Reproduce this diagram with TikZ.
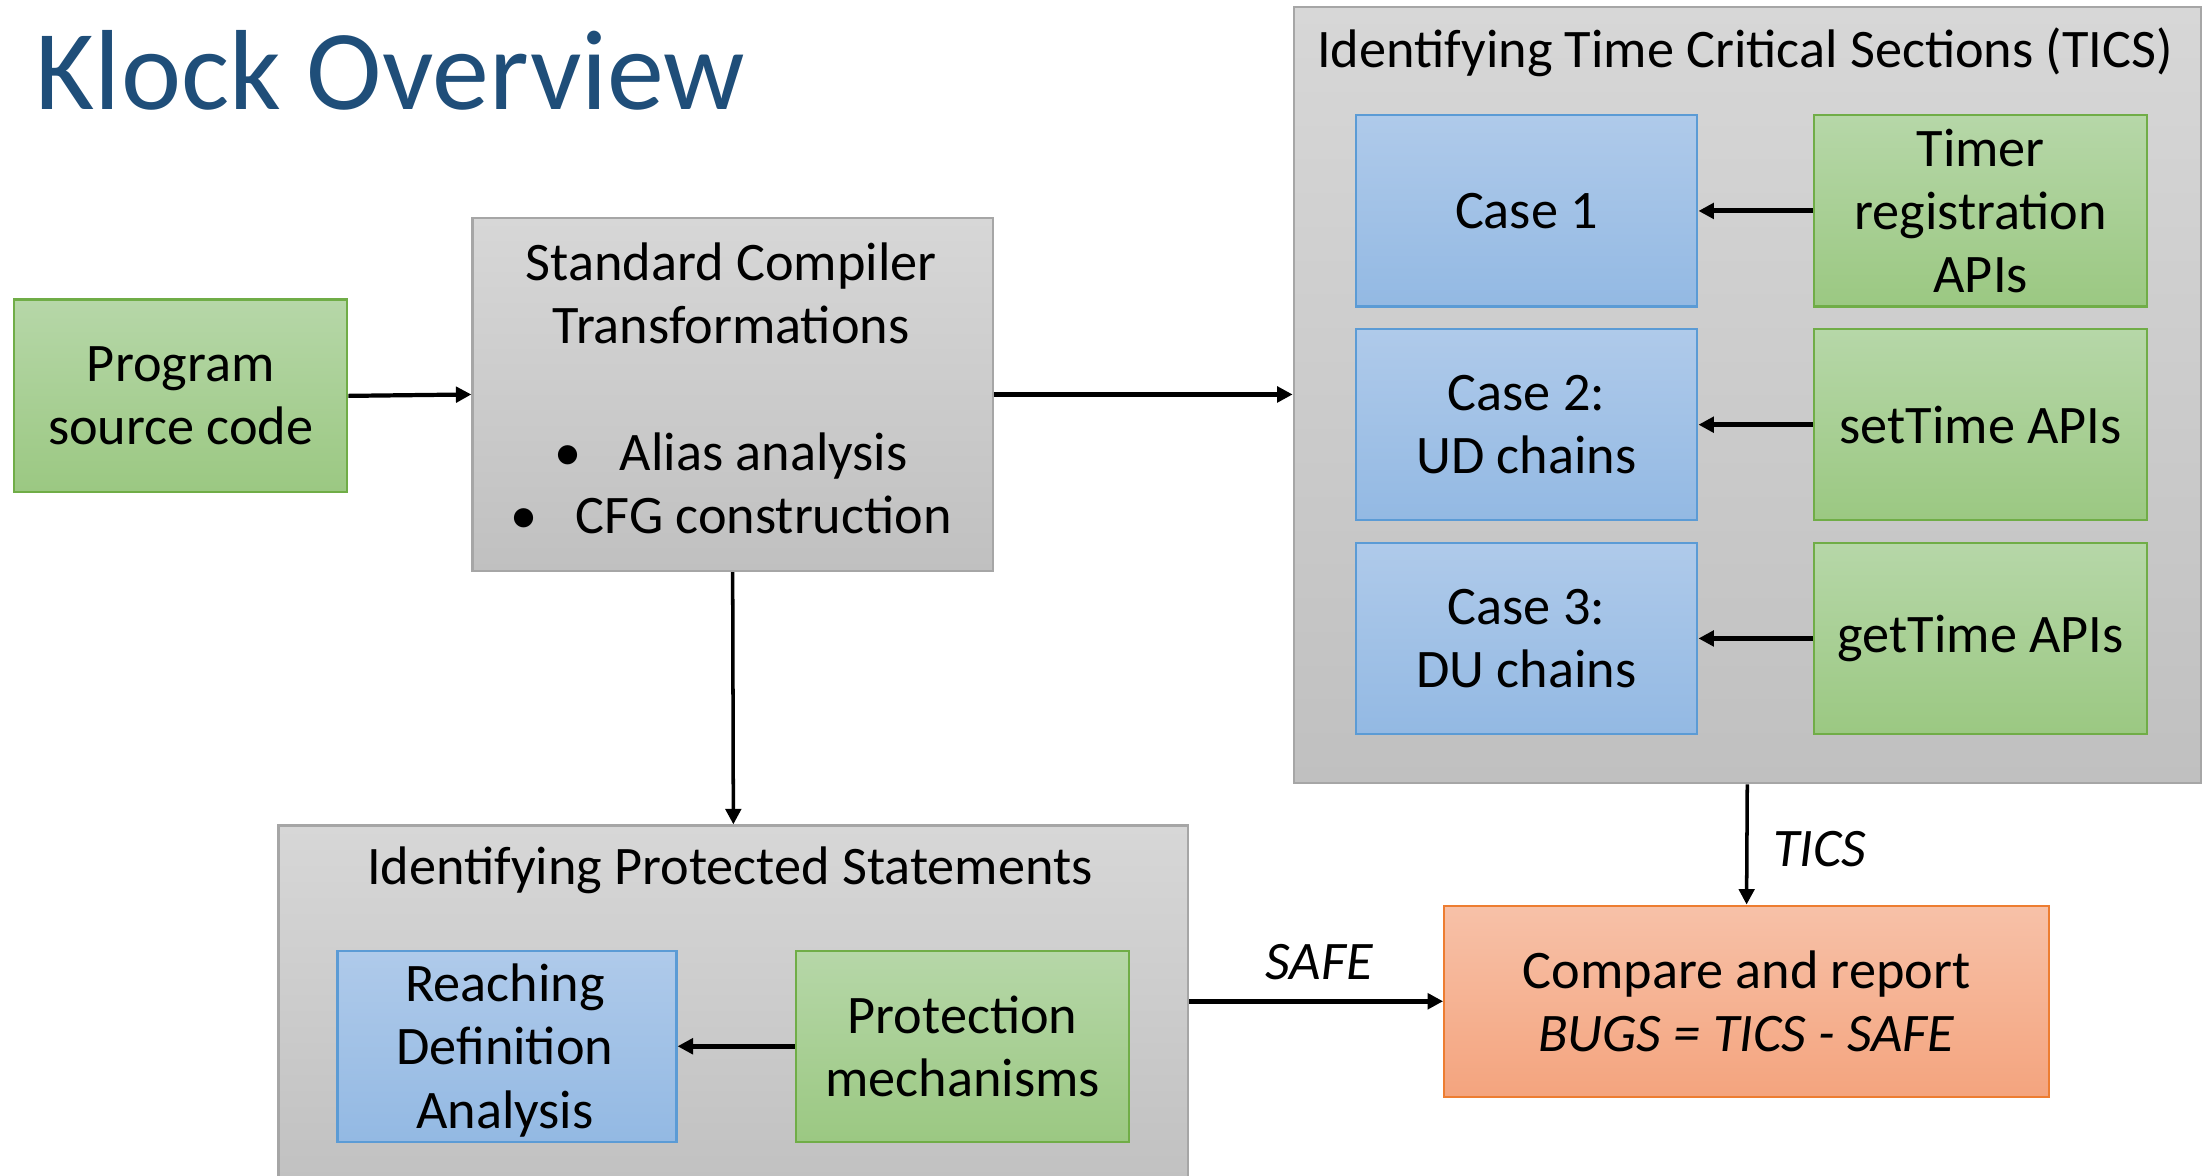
\documentclass[tikz,border=0pt]{standalone}
\usepackage{fontspec}
\setmainfont{Carlito}
\usetikzlibrary{arrows.meta}

\definecolor{titleblue}{RGB}{31,78,121}
\definecolor{grnTop}{RGB}{182,215,168}
\definecolor{grnBot}{RGB}{155,200,130}
\definecolor{grnLine}{RGB}{112,173,71}
\definecolor{bluTop}{RGB}{175,202,234}
\definecolor{bluBot}{RGB}{147,185,227}
\definecolor{bluLine}{RGB}{91,155,213}
\definecolor{gryTop}{RGB}{215,215,215}
\definecolor{gryBot}{RGB}{192,192,192}
\definecolor{gryLine}{RGB}{166,166,166}
\definecolor{orgTop}{RGB}{247,193,168}
\definecolor{orgBot}{RGB}{244,164,126}
\definecolor{orgLine}{RGB}{237,125,49}

\newcommand\dgbody{\fontsize{19.3}{22.5}\selectfont}

\begin{document}
\begin{tikzpicture}[x=0.5pt,y=-0.5pt,
  box/.style={draw, line width=0.8pt, inner sep=0pt, align=center,
    font=\dgbody, text=black},
  greenbox/.style={box, draw=grnLine, top color=grnTop, bottom color=grnBot},
  bluebox/.style={box, draw=bluLine, top color=bluTop, bottom color=bluBot},
  graybox/.style={box, draw=gryLine, top color=gryTop, bottom color=gryBot},
  orangebox/.style={box, draw=orgLine, top color=orgTop, bottom color=orgBot},
  small/.style={minimum width=118.5pt, minimum height=68pt},
  arr/.style={-{Triangle[length=5.5pt,width=5.5pt]}, line width=1.8pt},
  thinarr/.style={arr, line width=1.25pt},
  midarr/.style={arr, line width=1.5pt},
  txt/.style={font=\dgbody, inner sep=0pt, align=center},
  lbl/.style={font=\dgbody\itshape, inner sep=0pt}
]
\useasboundingbox (0,0) rectangle (1568,836);
\clip (0,0) rectangle (1568,836);

% heading
\node[anchor=base west, inner sep=0pt, text=titleblue,
  font=\fontsize{40.5}{48}\selectfont] (title) at (25,78) {Klock Overview};

% input and front end
\node[greenbox, minimum width=118.5pt, minimum height=68.5pt] (prog) at (128.5,281.5)
  {Program\\source code};
\node[graybox, minimum width=185pt, minimum height=125.5pt] (std) at (521,280.5) {};
\node[txt] (stdText) at (520,276)
  {Standard Compiler\\Transformations\\\mbox{}\\
   \textbullet\hspace{0.7em}Alias analysis\\
   \textbullet\hspace{0.7em}CFG construction};

% time critical sections
\node[graybox, minimum width=322.5pt, minimum height=276pt] (tics) at (1242.5,281) {};
\node[txt] (ticsTitle) at (1241,37)
  {Identifying Time Critical Sections (TICS)};
\node[bluebox, minimum width=121.5pt, minimum height=68pt] (case1) at (1085.5,150) {Case 1};
\node[bluebox, minimum width=121.5pt, minimum height=68pt] (case2) at (1085.5,302) {Case 2:\\UD chains};
\node[bluebox, minimum width=121.5pt, minimum height=68pt] (case3) at (1085.5,454) {Case 3:\\DU chains};
\node[greenbox, small] (timer) at (1408.5,150) {Timer\\registration\\APIs};
\node[greenbox, small] (settime) at (1408.5,302) {setTime APIs};
\node[greenbox, small] (gettime) at (1408.5,454) {getTime APIs};

% protected statements
\node[graybox, minimum width=323.5pt, minimum height=131.5pt] (prot) at (521.5,718.5) {};
\node[txt] (protTitle) at (519,619)
  {Identifying Protected Statements};
\node[bluebox, minimum width=120.5pt, minimum height=68pt] (rda) at (360.5,744) {};
\node[txt] (rdaText) at (359,747) {Reaching\\Definition\\Analysis};
\node[greenbox, small] (pm) at (684.5,744) {Protection\\mechanisms};

% result
\node[orangebox, minimum width=215pt, minimum height=68pt] (cmp) at (1242,712)
  {Compare and report\\\textit{BUGS = TICS - SAFE}};

% connectors
\draw[midarr] (prog.east) -- (std.west);
\draw[midarr] (std.east) -- (std.east -| tics.west);
\draw[thinarr] (std.south) -- (prot.north);
\draw[arr] (timer.west) -- (case1.east);
\draw[arr] (settime.west) -- (case2.east);
\draw[arr] (gettime.west) -- (case3.east);
\draw[arr] (pm.west) -- (rda.east);
\draw[thinarr] (tics.south) -- (cmp.north);
\draw[arr] (prot.east |- cmp.west) -- (cmp.west);

\node[lbl] (ticsLbl) at (1294,604) {TICS};
\node[lbl] (safeLbl) at (938,684) {SAFE};
\end{tikzpicture}
\end{document}
